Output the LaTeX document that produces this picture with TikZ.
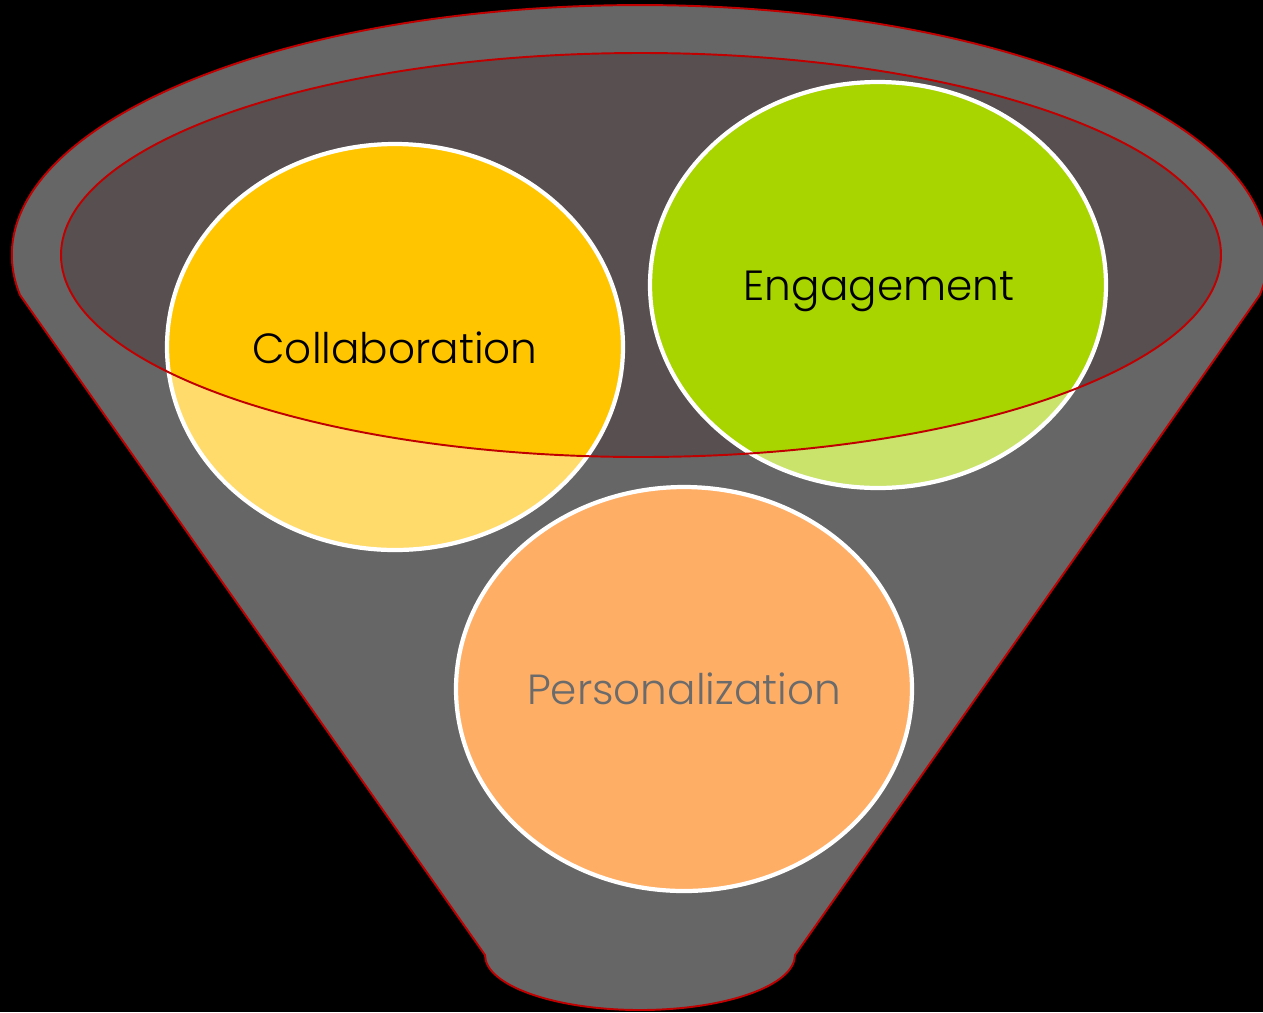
\documentclass[tikz,border=0pt]{standalone}
\usepackage{fontspec}
\setmainfont{Poppins}[UprightFont=* Light]
\definecolor{funnelgray}{HTML}{666666}
\definecolor{innergray}{HTML}{574F50}
\definecolor{rimred}{HTML}{C00000}
\definecolor{yelbright}{HTML}{FFC600}
\definecolor{yellight}{HTML}{FFDB6B}
\definecolor{grnbright}{HTML}{A8D400}
\definecolor{grnlight}{HTML}{C9E36B}
\definecolor{orange}{HTML}{FFAE66}
\definecolor{txtgray}{HTML}{6B6B6B}
\begin{document}
\begin{tikzpicture}[x=0.02cm,y=-0.02cm,
  bubble/.style={draw=white,line width=2.4pt},
  rim/.style={draw=rimred,line width=1.1pt},
  label/.style={font=\fontsize{24}{28}\selectfont,inner sep=0pt,anchor=base}]
\fill[black] (0,0) rectangle (1263,1012);
\useasboundingbox (0,0) rectangle (1263,1012);
% funnel body
\filldraw[fill=funnelgray,rim] (20,295)
  arc[start angle=170.8,end angle=369.2,x radius=628,y radius=250]
  -- (795,955) arc[start angle=0,end angle=180,x radius=155,y radius=55]
  -- cycle;
% inner mouth
\fill[innergray] (641,255) ellipse[x radius=580,y radius=202];
% circles (light parts)
\fill[yellight] (395,347) ellipse[x radius=228,y radius=203];
\fill[grnlight] (878,285) ellipse[x radius=228,y radius=203];
% bright parts inside the mouth
\begin{scope}
  \clip (641,255) ellipse[x radius=580,y radius=202];
  \fill[yelbright] (395,347) ellipse[x radius=228,y radius=203];
  \fill[grnbright] (878,285) ellipse[x radius=228,y radius=203];
\end{scope}
\draw[bubble] (395,347) ellipse[x radius=228,y radius=203];
\draw[bubble] (878,285) ellipse[x radius=228,y radius=203];
\filldraw[bubble,fill=orange] (684,689) ellipse[x radius=228,y radius=202];
% mouth rim
\draw[rim] (641,255) ellipse[x radius=580,y radius=202];
% labels
\node[label,text=black] (collab) at (395,363) {Collaboration};
\node[label,text=black] (engage) at (879,300) {Engagement};
\node[label,text=txtgray] (person) at (684,704) {Personalization};
\end{tikzpicture}
\end{document}
